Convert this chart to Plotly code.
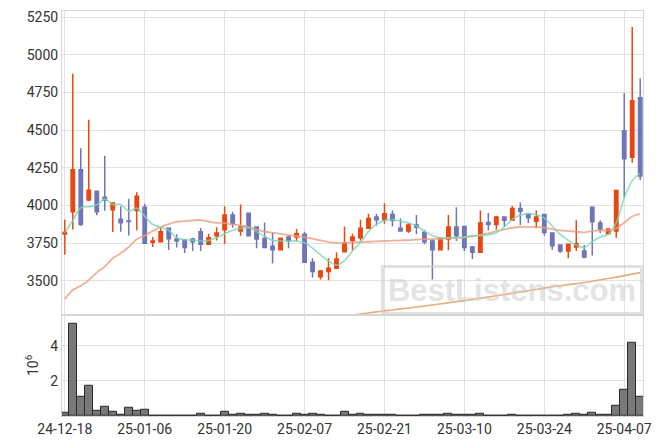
import plotly.graph_objects as go

dates = ["24-12-18","24-12-19","24-12-20","24-12-23","24-12-24","24-12-26","24-12-27","24-12-30",
         "25-01-02","25-01-03","25-01-06","25-01-07","25-01-08","25-01-09","25-01-10","25-01-13",
         "25-01-14","25-01-15","25-01-16","25-01-17","25-01-20","25-01-21","25-01-22","25-01-23",
         "25-01-24","25-01-31","25-02-03","25-02-04","25-02-05","25-02-06","25-02-07","25-02-10",
         "25-02-11","25-02-12","25-02-13","25-02-14","25-02-17","25-02-18","25-02-19","25-02-20",
         "25-02-21","25-02-24","25-02-25","25-02-26","25-02-27","25-02-28","25-03-04","25-03-05",
         "25-03-06","25-03-07","25-03-10","25-03-11","25-03-12","25-03-13","25-03-14","25-03-17",
         "25-03-18","25-03-19","25-03-20","25-03-21","25-03-24","25-03-25","25-03-26","25-03-27",
         "25-03-28","25-03-31","25-04-01","25-04-02","25-04-03","25-04-04","25-04-07","25-04-08",
         "25-04-09"]

open_ = [3810,3958,4238,4037,4095,4055,3971,3909,3897,3967,3989,3755,3759,3848,3777,3770,3777,3826,
         3742,3799,3839,3936,3830,3949,3857,3781,3729,3706,3790,3790,3808,3623,3526,3561,3583,3693,
         3768,3786,3848,3923,3905,3940,3848,3830,3870,3821,3764,3706,3777,3857,3861,3724,3689,3887,
         3874,3923,3901,3980,3945,3896,3940,3817,3737,3698,3724,3698,3989,3883,3812,3830,4497,4321,
         4716]
high = [3905,4875,4380,4570,4100,4330,4020,3995,4045,4088,4010,3790,3848,3850,3808,3772,3785,3850,
        3812,3856,3995,3958,4007,3950,3860,3887,3821,3785,3803,3843,3826,3649,3572,3649,3689,3861,
        3812,3905,3945,3945,4015,3967,3914,3883,3936,3839,3777,3790,3936,3989,3865,3730,3967,3950,
        3932,3925,3997,4019,3950,3967,3943,3820,3740,3748,3901,3737,3990,3901,3848,4105,4745,5186,
        4846]
low = [3672,3840,3865,4030,3935,3965,3823,3825,3800,3835,3748,3724,3755,3704,3720,3685,3698,3698,
       3740,3768,3746,3852,3799,3798,3716,3716,3614,3704,3716,3764,3622,3521,3508,3504,3583,3693,
       3702,3768,3845,3865,3878,3861,3828,3817,3808,3742,3508,3703,3702,3764,3698,3645,3688,3834,
       3839,3861,3898,3870,3883,3848,3799,3706,3685,3649,3698,3649,3667,3817,3808,3786,4055,4284,
       4169]
close = [3822,4238,3874,4101,3958,4035,4017,3885,3893,4062,3749,3764,3826,3779,3764,3720,3759,3742,
         3786,3817,3936,3878,3857,3799,3777,3720,3706,3782,3764,3812,3623,3561,3565,3583,3645,3751,
         3790,3848,3913,3905,3945,3900,3830,3870,3856,3759,3706,3782,3857,3799,3720,3689,3883,3874,
         3923,3901,3980,3962,3918,3923,3821,3733,3698,3742,3746,3658,3892,3843,3843,4099,4310,4696,
         4196]

ma_short = [3818,3900,3985,3992,4004,4042,4007,4007,3962,3982,3929,3874,3857,3834,3786,3772,3770,3764,
            3768,3786,3812,3836,3848,3852,3826,3795,3768,3764,3764,3764,3753,3716,3671,3631,3605,3634,
            3698,3755,3826,3874,3901,3905,3896,3883,3863,3830,3801,3786,3786,3786,3790,3800,3800,3805,
            3819,3857,3907,3936,3945,3940,3918,3863,3808,3768,3737,3720,3759,3790,3808,3885,4050,4165,
            4215]
ma_mid = [3378,3438,3466,3505,3554,3594,3649,3682,3724,3775,3800,3830,3857,3876,3892,3896,3901,3903,
          3892,3885,3883,3874,3867,3857,3841,3826,3819,3812,3803,3797,3790,3779,3768,3757,3751,3751,
          3755,3757,3759,3762,3764,3766,3768,3770,3773,3775,3777,3779,3782,3784,3786,3795,3805,3815,
          3830,3841,3852,3857,3857,3857,3852,3843,3834,3830,3826,3821,3830,3834,3834,3848,3885,3927,
          3945]
ma_long = [None]*34 + [3258,3265,3272,3279,3286,3293,3300,3306,3313,3319,3325,3332,3339,3346,3353,
                       3361,3368,3376,3384,3392,3400,3408,3417,3425,3434,3442,3451,3460,3467,3474,
                       3481,3488,3497,3506,3515,3524,3534,3544,3554]

volume_m = [0.16,5.26,1.07,1.75,0.29,0.50,0.24,0.05,0.45,0.29,0.35,0.03,0.03,0.03,0.03,0.03,0.03,0.13,
            0.03,0.03,0.27,0.05,0.12,0.05,0.05,0.12,0.05,0.02,0.04,0.12,0.05,0.12,0.05,0.04,0.04,0.22,
            0.05,0.12,0.05,0.05,0.05,0.05,0.0,0.0,0.0,0.05,0.05,0.05,0.12,0.05,0.05,0.05,0.12,0.0,
            0.0,0.0,0.05,0.0,0.0,0.0,0.04,0.0,0.0,0.05,0.12,0.05,0.2,0.05,0.05,0.58,1.52,4.19,1.07]

tick_dates = dates[::10]

UP = "#E8470F"
DOWN = "#7075B8"
GRID = "#e2e2e2"
FRAME = "#d6d6d6"

fig = go.Figure()
fig.add_trace(go.Candlestick(
    x=dates, open=open_, high=high, low=low, close=close,
    increasing=dict(line=dict(color=UP, width=1.5), fillcolor=UP),
    decreasing=dict(line=dict(color=DOWN, width=1.5), fillcolor=DOWN),
    whiskerwidth=0, showlegend=False, xaxis="x", yaxis="y"))
fig.add_trace(go.Scatter(x=dates, y=ma_long, mode="lines", line=dict(color="rgba(232,160,100,0.85)", width=1.6, shape="spline"),
                         showlegend=False, xaxis="x", yaxis="y"))
fig.add_trace(go.Scatter(x=dates, y=ma_mid, mode="lines", line=dict(color="rgba(240,155,125,0.8)", width=1.8, shape="spline"),
                         showlegend=False, xaxis="x", yaxis="y"))
fig.add_trace(go.Scatter(x=dates, y=ma_short, mode="lines", line=dict(color="rgba(120,215,180,0.8)", width=1.6, shape="spline"),
                         showlegend=False, xaxis="x", yaxis="y"))
fig.add_trace(go.Bar(x=dates, y=volume_m, marker=dict(color="#787878", line=dict(color="#2a2a2a", width=1)),
                     width=1.0, showlegend=False, xaxis="x2", yaxis="y2"))

axis_common = dict(showgrid=True, gridcolor=GRID, gridwidth=1, showline=True, linecolor=FRAME,
                   linewidth=1, mirror=True, zeroline=False, ticks="", ticklabeloverflow="allow")

fig.update_layout(
    width=655, height=436,
    margin=dict(l=54, r=20, t=1, b=28),
    paper_bgcolor="white", plot_bgcolor="white",
    font=dict(family="Roboto", size=14, color="#333333"),
    boxgap=0.4,
    bargap=0,
    xaxis=dict(type="category", range=[-0.35, 72.35], tickvals=tick_dates, showticklabels=False,
               rangeslider=dict(visible=False), anchor="y", domain=[0, 1], **axis_common),
    xaxis2=dict(type="category", range=[-0.35, 72.35], tickvals=tick_dates, ticktext=tick_dates,
                matches="x", anchor="y2", domain=[0, 1], **axis_common),
    yaxis=dict(domain=[0.25, 1], range=[3274, 5292], dtick=250, tick0=3500, anchor="x", **axis_common),
    yaxis2=dict(domain=[0, 0.25], range=[0, 5.77], tickvals=[2, 4], anchor="x2",
                title=dict(text="10<sup>6</sup>", font=dict(size=14), standoff=8), **axis_common),
)

fig.add_annotation(
    xref="paper", yref="paper", x=0.775, y=0.311, xanchor="center", yanchor="middle",
    text="<b>BestListens.com</b>", showarrow=False,
    font=dict(family="Liberation Sans", size=31, color="rgba(205,205,205,0.55)"),
    bordercolor="rgba(205,205,205,0.6)", borderwidth=3, borderpad=3,
    width=250, height=38, bgcolor="rgba(255,255,255,0)")

fig.write_html("out.html")
